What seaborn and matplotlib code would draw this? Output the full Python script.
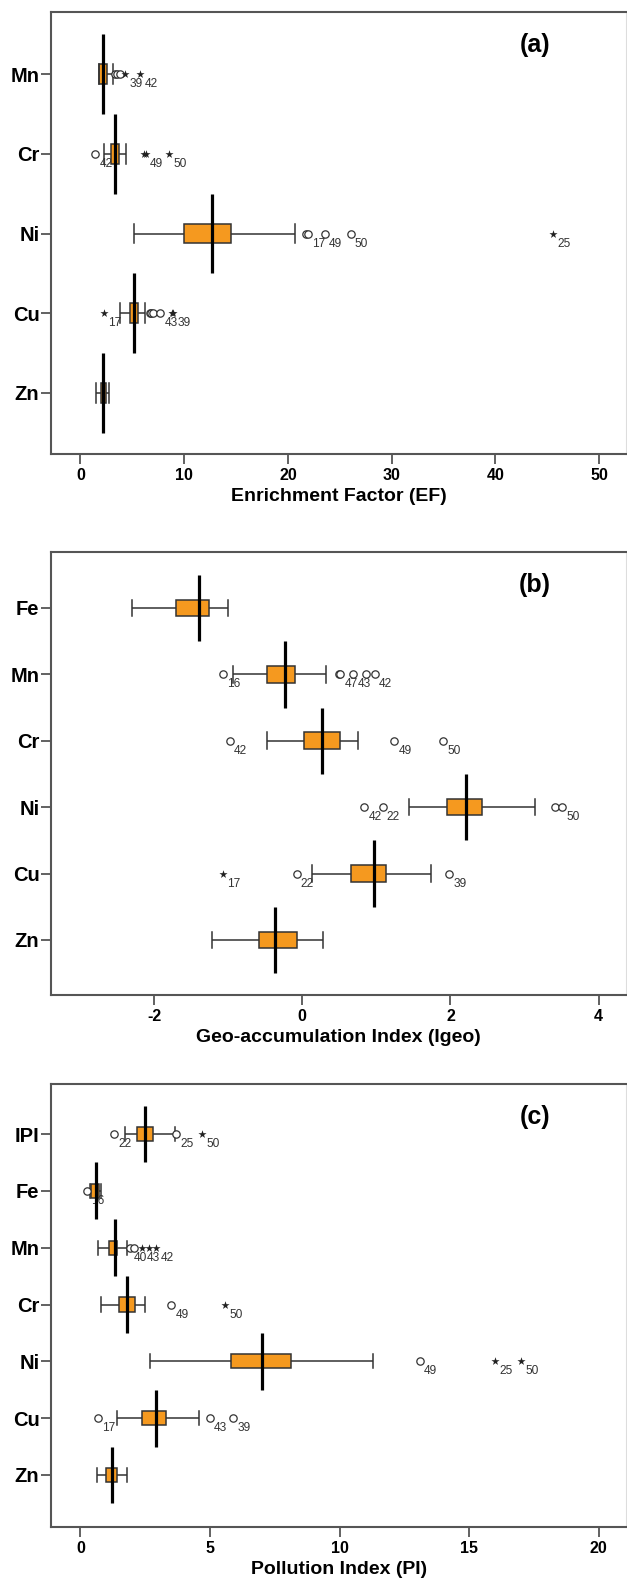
import numpy as np
import pandas as pd
import matplotlib
matplotlib.use("Agg")
import matplotlib.pyplot as plt
import seaborn as sns
from matplotlib import font_manager

# ---------------- Panel (a): Enrichment Factor ----------------
ef_cats = ["Mn", "Cr", "Ni", "Cu", "Zn"]
ef_lo = [1.75, 2.31, 5.20, 3.86, 1.54]
ef_q1 = [1.81, 2.90, 9.95, 4.82, 1.97]
ef_med = [2.21, 3.32, 12.65, 5.17, 2.20]
ef_q3 = [2.53, 3.70, 14.47, 5.59, 2.43]
ef_hi = [3.17, 4.44, 20.64, 6.25, 2.74]
ef_out_cat = ["Mn", "Mn", "Mn", "Mn", "Mn",
              "Cr", "Cr", "Cr", "Cr",
              "Ni", "Ni", "Ni", "Ni", "Ni",
              "Cu", "Cu", "Cu", "Cu", "Cu", "Cu", "Cu"]
ef_out_val = [3.35, 3.55, 3.80, 4.30, 5.75,
              1.43, 6.10, 6.30, 8.56,
              21.76, 21.95, 23.57, 26.04, 45.6,
              2.28, 6.70, 6.85, 7.00, 7.68, 8.85, 8.95]
ef_out_mark = ["o", "o", "o", "*", "*",
               "o", "*", "*", "*",
               "o", "o", "o", "o", "*",
               "*", "o", "o", "o", "o", "*", "*"]
ef_out_lbl = ["", "", "", "39", "42",
              "42", "", "49", "50",
              "", "17", "49", "50", "25",
              "17", "", "", "", "43", "", "39"]
ef_ticks = [0, 10, 20, 30, 40, 50]

# ---------------- Panel (b): Geo-accumulation Index ----------------
ig_cats = ["Fe", "Mn", "Cr", "Ni", "Cu", "Zn"]
ig_lo = [-2.30, -0.935, -0.48, 1.44, 0.135, -1.22]
ig_q1 = [-1.70, -0.48, 0.027, 1.95, 0.66, -0.578]
ig_med = [-1.40, -0.227, 0.27, 2.216, 0.968, -0.368]
ig_q3 = [-1.26, -0.097, 0.508, 2.43, 1.135, -0.065]
ig_hi = [-1.00, 0.324, 0.75, 3.135, 1.74, 0.28]
ig_out_cat = ["Mn", "Mn", "Mn", "Mn", "Mn", "Mn",
              "Cr", "Cr", "Cr",
              "Ni", "Ni", "Ni", "Ni",
              "Cu", "Cu", "Cu"]
ig_out_val = [-1.076, 0.50, 0.515, 0.686, 0.865, 0.98,
              -0.978, 1.243, 1.903,
              0.838, 1.086, 3.416, 3.508,
              -1.076, -0.076, 1.98]
ig_out_mark = ["o", "o", "o", "o", "o", "o",
               "o", "o", "o",
               "o", "o", "o", "o",
               "*", "o", "o"]
ig_out_lbl = ["16", "", "47", "43", "", "42",
              "42", "49", "50",
              "42", "22", "", "50",
              "17", "22", "39"]
ig_ticks = [-2, 0, 2, 4]

# ---------------- Panel (c): Pollution Index ----------------
pi_cats = ["IPI", "Fe", "Mn", "Cr", "Ni", "Cu", "Zn"]
pi_lo = [1.71, 0.36, 0.69, 0.79, 2.70, 1.39, 0.62]
pi_q1 = [2.19, 0.41, 1.10, 1.50, 5.80, 2.39, 0.99]
pi_med = [2.50, 0.59, 1.33, 1.81, 6.99, 2.90, 1.20]
pi_q3 = [2.81, 0.73, 1.40, 2.10, 8.12, 3.30, 1.39]
pi_hi = [3.63, 0.78, 1.81, 2.48, 11.30, 4.58, 1.81]
pi_out_cat = ["IPI", "IPI", "IPI",
              "Fe",
              "Mn", "Mn", "Mn", "Mn", "Mn",
              "Cr", "Cr",
              "Ni", "Ni", "Ni",
              "Cu", "Cu", "Cu"]
pi_out_val = [1.30, 3.70, 4.69,
              0.26,
              1.91, 2.07, 2.38, 2.64, 2.92,
              3.50, 5.59,
              13.09, 16.0, 17.0,
              0.69, 4.98, 5.90]
pi_out_mark = ["o", "o", "*",
               "o",
               "o", "o", "*", "*", "*",
               "o", "*",
               "o", "*", "*",
               "o", "o", "o"]
pi_out_lbl = ["22", "25", "50",
              "16",
              "40", "", "43", "", "42",
              "49", "50",
              "49", "25", "50",
              "17", "43", "39"]
pi_ticks = [0, 5, 10, 15, 20]

# ---------------- styling ----------------
ORANGE = "#F5991F"
EDGE = "#333333"
SPINE = "#555555"
names = {f.name for f in font_manager.fontManager.ttflist}
MAIN_FONT = "Liberation Sans" if "Liberation Sans" in names else "DejaVu Sans"
NARROW = "Liberation Sans Narrow" if "Liberation Sans Narrow" in names else MAIN_FONT

plt.rcParams["font.family"] = [MAIN_FONT, "DejaVu Sans"]

W, H = 627, 1579
fig = plt.figure(figsize=(W / 100, H / 100), dpi=100)


def make_df(cats, lo, q1, med, q3, hi):
    rows = []
    for c, a, b, m, d, e in zip(cats, lo, q1, med, q3, hi):
        for v in (a, b, m, d, e):
            rows.append({"cat": c, "value": v})
    return pd.DataFrame(rows)


def draw_panel(rect, cats, lo, q1, med, q3, hi, out_cat, out_val, out_mark,
               out_lbl, xlim, ylim, xticks, xlabel, tag):
    ax = fig.add_axes(rect)
    df = make_df(cats, lo, q1, med, q3, hi)
    kw = dict(data=df, x="value", y="cat", order=cats, orient="h", width=0.25,
              whis=(0, 100), showfliers=False, color=ORANGE, saturation=1,
              linecolor=EDGE, linewidth=1.1, medianprops=dict(linewidth=0),
              ax=ax)
    try:
        sns.boxplot(capwidths=0.25, **kw)
    except TypeError:
        ax.cla()
        sns.boxplot(**kw)

    pos = {c: i for i, c in enumerate(cats)}
    # thick median lines spanning the full category band
    ax.vlines(med, np.arange(len(cats)) - 0.5, np.arange(len(cats)) + 0.5,
              colors="black", linewidth=2.3, zorder=5)

    # outliers
    for c, v, mk, lb in zip(out_cat, out_val, out_mark, out_lbl):
        y = pos[c]
        if mk == "o":
            ax.scatter([v], [y], s=28, marker="o", facecolors="white",
                       edgecolors="#333333", linewidths=0.9, zorder=6)
        else:
            ax.scatter([v], [y], s=38, marker="*", color="#222222",
                       linewidths=0, zorder=6)
        if lb:
            ax.annotate(lb, (v, y), xytext=(3.0, -7.2), textcoords="offset points",
                        ha="left", va="center", fontsize=8.6, color="#333333",
                        family=[NARROW, "DejaVu Sans"], zorder=1)

    ax.set_xlim(*xlim)
    ax.set_ylim(*ylim)
    ax.set_xticks(xticks)
    ax.set_xticklabels([str(t) for t in xticks])
    ax.set_xlabel(xlabel, fontsize=14, fontweight="bold", labelpad=4)
    ax.set_ylabel("")
    for lab in ax.get_yticklabels():
        lab.set_fontsize(14.5)
        lab.set_fontweight("bold")
    for lab in ax.get_xticklabels():
        lab.set_fontsize(11.5)
        lab.set_fontweight("bold")
    ax.tick_params(axis="both", length=7.5, width=1.3, color=SPINE)
    ax.tick_params(axis="x", pad=2.5)
    ax.tick_params(axis="y", pad=1)
    for s in ("left", "bottom", "top"):
        ax.spines[s].set_color(SPINE)
        ax.spines[s].set_linewidth(1.5)
    ax.spines["right"].set_color("#dddddd")
    ax.spines["right"].set_linewidth(0.8)
    ax.set_facecolor("white")
    ax.grid(False)
    ax.text(0.842, 0.925, tag, transform=ax.transAxes, ha="center", va="center",
            fontsize=18, fontweight="bold")
    return ax


def rect(top_px, bottom_px, left_px=51.2, right_px=626.0):
    return [left_px / W, 1 - bottom_px / H, (right_px - left_px) / W,
            (bottom_px - top_px) / H]


draw_panel(rect(12.3, 454), ef_cats, ef_lo, ef_q1, ef_med, ef_q3, ef_hi,
           ef_out_cat, ef_out_val, ef_out_mark, ef_out_lbl,
           (-2.82, 52.6), (4.765, -0.774), ef_ticks,
           "Enrichment Factor (EF)", "(a)")
draw_panel(rect(552, 995), ig_cats, ig_lo, ig_q1, ig_med, ig_q3, ig_hi,
           ig_out_cat, ig_out_val, ig_out_mark, ig_out_lbl,
           (-3.39, 4.37), (5.83, -0.843), ig_ticks,
           "Geo-accumulation Index (Igeo)", "(b)")
draw_panel(rect(1084, 1527), pi_cats, pi_lo, pi_q1, pi_med, pi_q3, pi_hi,
           pi_out_cat, pi_out_val, pi_out_mark, pi_out_lbl,
           (-1.13, 21.05), (6.915, -0.88), pi_ticks,
           "Pollution Index (PI)", "(c)")

fig.savefig("out.png", dpi=100, facecolor="white")
